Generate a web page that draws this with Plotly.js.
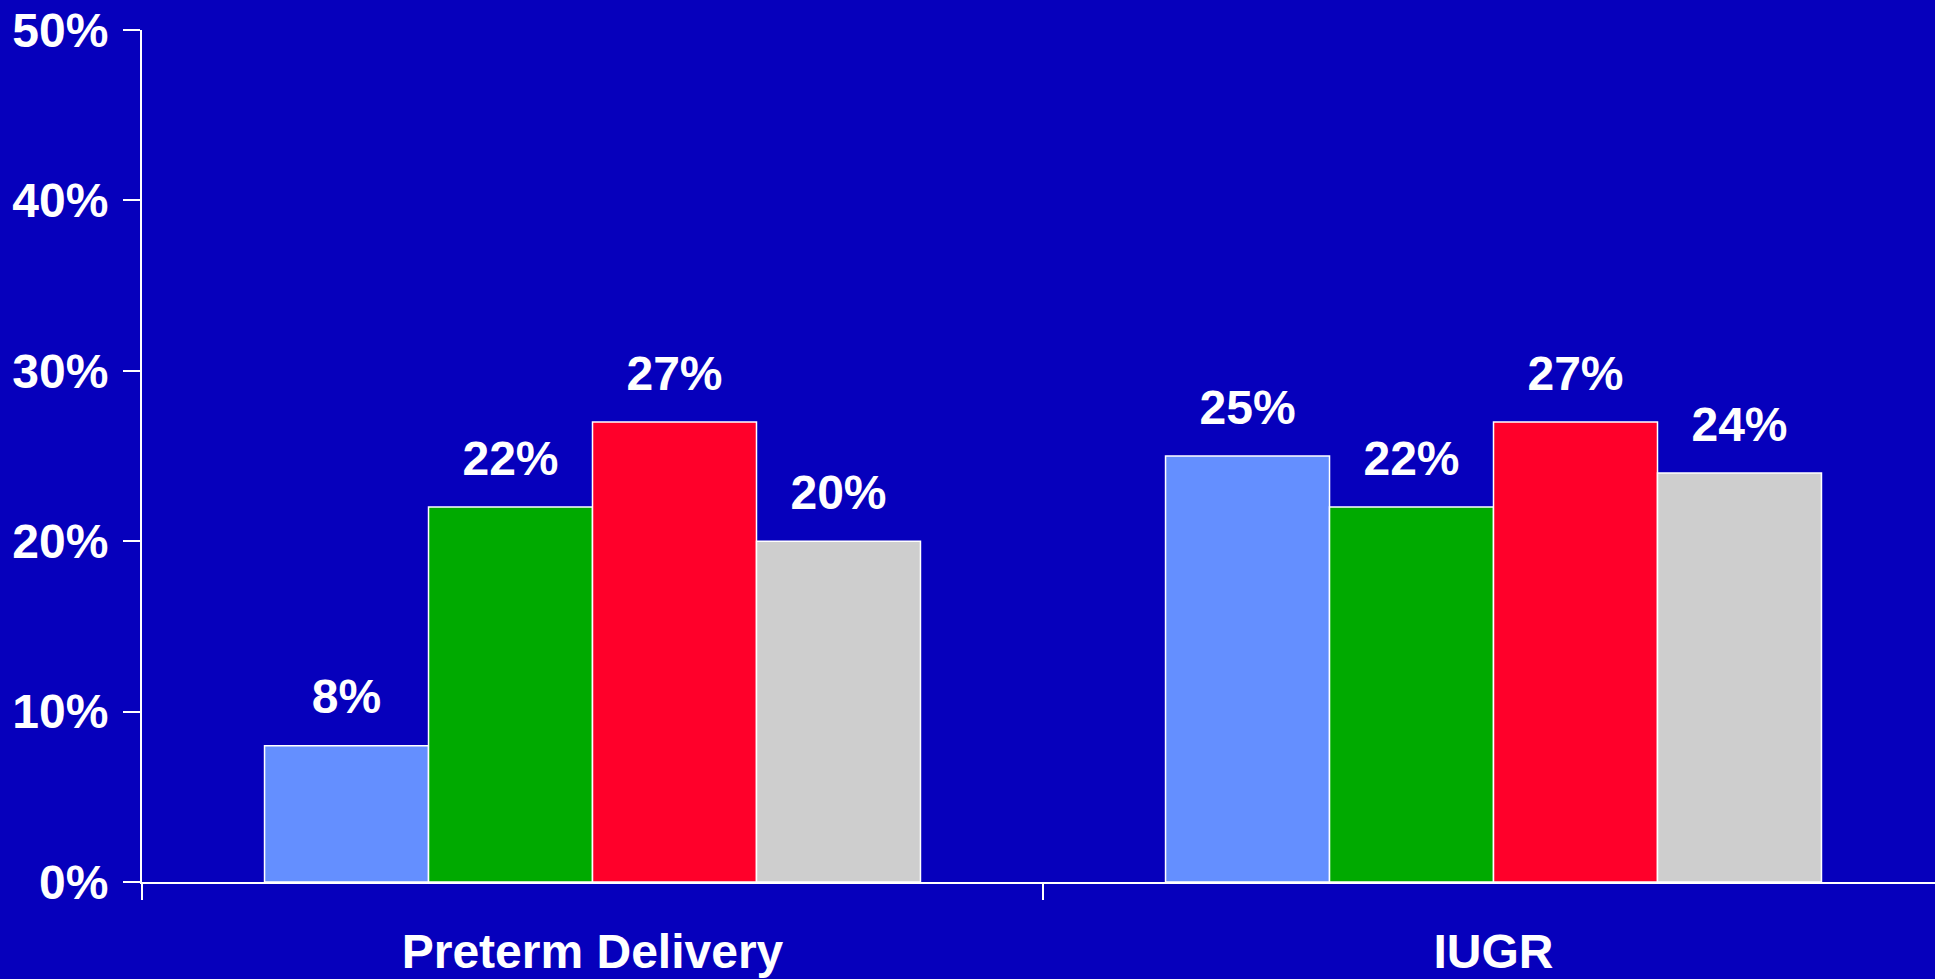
<!DOCTYPE html>
<html>
<head>
<meta charset="utf-8">
<script src="https://cdn.plot.ly/plotly-3.0.1.min.js"></script>
<style>
  html, body { margin: 0; padding: 0; background: #0600BC; }
  #chart { width: 1935px; height: 979px; }
</style>
</head>
<body>
<div id="chart"></div>
<script>
const categories = ["Preterm Delivery", "IUGR"];
const seriesA = [8, 25];   // light blue
const seriesB = [22, 22];  // green
const seriesC = [27, 27];  // red
const seriesD = [20, 24];  // gray
const seriesValues = [seriesA, seriesB, seriesC, seriesD];
const seriesColors = ["#648FFF", "#00AA00", "#FF002A", "#CECECE"];
const yTickValues = [0, 10, 20, 30, 40, 50];
const yTickLabels = ["0%", "10%", "20%", "30%", "40%", "50%"];

const FONT = "Liberation Sans, Arial, sans-serif";
const traces = [];
seriesValues.forEach((vals, i) => {
  traces.push({
    type: "bar",
    x: categories,
    y: vals,
    offsetgroup: "g" + i,
    marker: { color: seriesColors[i], line: { color: "#FFFFFF", width: 1.5 } },
    hoverinfo: "skip",
    showlegend: false
  });
});
seriesValues.forEach((vals, i) => {
  traces.push({
    type: "scatter",
    mode: "markers+text",
    x: categories,
    y: vals,
    offsetgroup: "g" + i,
    text: vals.map(v => v + "%"),
    textposition: "top center",
    textfont: { family: FONT, size: 48, color: "#FFFFFF", weight: "bold" },
    marker: { size: 31, opacity: 0, color: "#FFFFFF" },
    cliponaxis: false,
    hoverinfo: "skip",
    showlegend: false
  });
});

const layout = {
  width: 1935,
  height: 979,
  paper_bgcolor: "#0600BC",
  plot_bgcolor: "#0600BC",
  margin: { l: 142, r: 0, t: 30, b: 97, pad: 0 },
  barmode: "group",
  bargap: 0.272,
  bargroupgap: 0,
  scattermode: "group",
  scattergap: 0.272,
  showlegend: false,
  font: { family: FONT, color: "#FFFFFF" },
  xaxis: {
    type: "category",
    range: [-0.5, 1.49],
    showline: true,
    linecolor: "#FFFFFF",
    linewidth: 2,
    ticks: "outside",
    tickson: "boundaries",
    ticklen: 16,
    tickwidth: 2,
    tickcolor: "#FFFFFF",
    showgrid: false,
    zeroline: false,
    ticklabelstandoff: 26,
    tickfont: { family: FONT, size: 48, color: "#FFFFFF", weight: "bold" },
    fixedrange: true
  },
  yaxis: {
    range: [0, 50],
    tickvals: yTickValues,
    ticktext: yTickLabels,
    showline: true,
    linecolor: "#FFFFFF",
    linewidth: 2,
    ticks: "outside",
    ticklen: 17,
    tickwidth: 2,
    tickcolor: "#FFFFFF",
    showgrid: false,
    zeroline: false,
    ticklabelstandoff: 5,
    tickfont: { family: FONT, size: 48, color: "#FFFFFF", weight: "bold" },
    fixedrange: true
  }
};

Plotly.newPlot("chart", traces, layout, { displayModeBar: false, staticPlot: true });
</script>
</body>
</html>
